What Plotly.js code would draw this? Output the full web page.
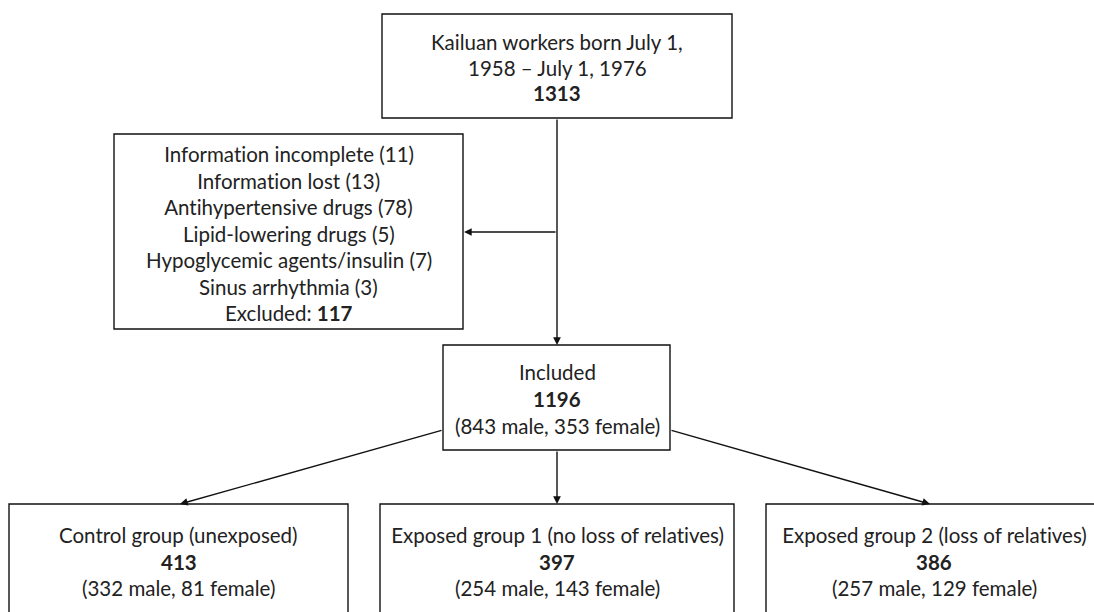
<!DOCTYPE html>
<html>
<head>
<meta charset="utf-8">
<script src="https://cdn.plot.ly/plotly-3.0.1.min.js"></script>
<style>
html,body{margin:0;padding:0;background:#fff;}
#chart{width:1094px;height:612px;}
#chart text{font-variant-ligatures:none;font-feature-settings:"liga" 0,"clig" 0;}
</style>
</head>
<body>
<div id="chart"></div>
<script>
// ---- data ----
const sourceLabel = ["Kailuan workers born July 1,", "1958 \u2013 July 1, 1976"];
const sourceN = 1313;
const exclusionReasons = ["Information incomplete", "Information lost", "Antihypertensive drugs", "Lipid-lowering drugs", "Hypoglycemic agents/insulin", "Sinus arrhythmia"];
const exclusionCounts = [11, 13, 78, 5, 7, 3];
const excludedN = 117;
const includedLabel = "Included";
const includedN = 1196;
const includedMale = 843;
const includedFemale = 353;
const groupNames = ["Control group (unexposed)", "Exposed group 1 (no loss of relatives)", "Exposed group 2 (loss of relatives)"];
const groupN = [413, 397, 386];
const groupMale = [332, 254, 257];
const groupFemale = [81, 143, 129];

// ---- layout geometry (pixels, y downwards) ----
const geo = {
  top: {x0: 382, x1: 732, y0: 14, y1: 118, cx: 557, firstLine: 42},
  excl: {x0: 114, x1: 463, y0: 134, y1: 329, cx: 288.5, firstLine: 154},
  inc: {x0: 443, x1: 670, y0: 345, y1: 450, cx: 557, firstLine: 372},
  groups: [
    {x0: 9, x1: 348, cx: 180, tcx: 178.5},
    {x0: 380, x1: 734, cx: 557, tcx: 557},
    {x0: 766, x1: 1120, cx: 930, tcx: 934}
  ],
  groupY0: 504, groupY1: 640, groupFirstLine: 535,
  lineStep: 26.5,
  branchY: 232,
  splitY: 430
};
const FONT = {family: "Lato, Noto Sans, sans-serif", size: 20.5, color: "#222"};
const LINE = {color: "#111", width: 1.4};

const shapes = [];
const annotations = [];
function box(x0, x1, y0, y1) {
  shapes.push({type: "rect", xref: "x", yref: "y", x0, x1, y0, y1, line: LINE, fillcolor: "rgba(0,0,0,0)"});
}
function txt(x, y, t) {
  annotations.push({x, y, xref: "x", yref: "y", text: t, showarrow: false, font: FONT, xanchor: "center", yanchor: "middle"});
}
function arrow(x0, y0, x1, y1) {
  annotations.push({x: x1, y: y1, ax: x0, ay: y0, xref: "x", yref: "y", axref: "x", ayref: "y", text: "", showarrow: true,
    arrowhead: 2, arrowsize: 1.1, arrowwidth: 1.4, arrowcolor: "#111", standoff: 0, startstandoff: 0});
}

// top box
box(geo.top.x0, geo.top.x1, geo.top.y0, geo.top.y1);
const topLines = [...sourceLabel, "<b>" + sourceN + "</b>"];
topLines.forEach((t, i) => txt(geo.top.cx, geo.top.firstLine + i * geo.lineStep * 0.97, t));

// exclusion box
box(geo.excl.x0, geo.excl.x1, geo.excl.y0, geo.excl.y1);
const exclLines = exclusionReasons.map((r, i) => r + " (" + exclusionCounts[i] + ")");
exclLines.push("Excluded: <b>" + excludedN + "</b>");
exclLines.forEach((t, i) => txt(geo.excl.cx, geo.excl.firstLine + i * geo.lineStep * 1.003, t));

// included box
box(geo.inc.x0, geo.inc.x1, geo.inc.y0, geo.inc.y1);
[includedLabel, "<b>" + includedN + "</b>", "(" + includedMale + " male, " + includedFemale + " female)"]
  .forEach((t, i) => txt(geo.inc.cx, geo.inc.firstLine + i * geo.lineStep * 1.02, t));

// group boxes
groupNames.forEach((name, g) => {
  const G = geo.groups[g];
  box(G.x0, G.x1, geo.groupY0, geo.groupY1);
  [name, "<b>" + groupN[g] + "</b>", "(" + groupMale[g] + " male, " + groupFemale[g] + " female)"]
    .forEach((t, i) => txt(G.tcx, geo.groupFirstLine + i * geo.lineStep, t));
});

// connectors
arrow(geo.top.cx, geo.top.y1, geo.inc.cx, geo.inc.y0);
arrow(geo.top.cx, geo.branchY, geo.excl.x1 + 1, geo.branchY);
arrow(geo.inc.x0, geo.splitY, geo.groups[0].cx, geo.groupY0);
arrow(geo.inc.cx, geo.inc.y1, geo.groups[1].cx, geo.groupY0);
arrow(geo.inc.x1, geo.splitY, geo.groups[2].cx, geo.groupY0);

const layout = {
  width: 1094, height: 612,
  margin: {l: 0, r: 0, t: 0, b: 0},
  paper_bgcolor: "#fff", plot_bgcolor: "#fff",
  showlegend: false,
  xaxis: {range: [0, 1094], visible: false, fixedrange: true},
  yaxis: {range: [612, 0], visible: false, fixedrange: true},
  shapes, annotations
};
Plotly.newPlot("chart", [{x: [], y: [], type: "scatter", hoverinfo: "skip"}], layout, {displayModeBar: false, staticPlot: true});
</script>
</body>
</html>
